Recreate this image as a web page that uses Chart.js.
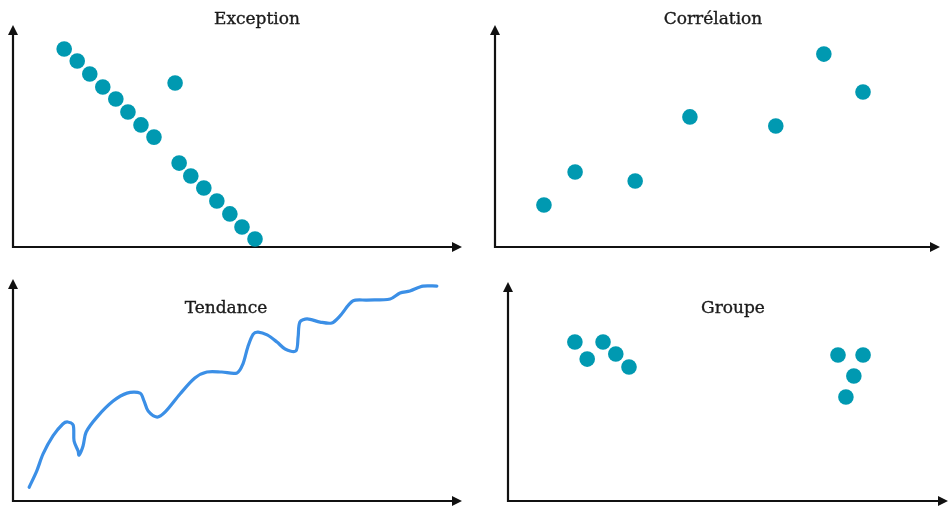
<!DOCTYPE html>
<html>
<head>
<meta charset="utf-8">
<script src="https://cdn.jsdelivr.net/npm/chart.js@4.4.1/dist/chart.umd.min.js"></script>
<style>
  html, body { margin: 0; padding: 0; background: #fff; }
  #wrap { position: relative; width: 950px; height: 507px; overflow: hidden; }
  .panel { position: absolute; }
  .title { position: absolute; font-family: "DejaVu Serif", serif; font-size: 17px; color: #1a1a1a;
           -webkit-text-stroke: 0.35px #1a1a1a;
           transform: translate(-50%, -50%); white-space: nowrap; }
</style>
</head>
<body>
<div id="wrap">
  <div class="panel" style="left:0;top:0;width:475px;height:254px"><canvas id="c1"></canvas></div>
  <div class="panel" style="left:475px;top:0;width:475px;height:254px"><canvas id="c2"></canvas></div>
  <div class="panel" style="left:0;top:254px;width:475px;height:253px"><canvas id="c3"></canvas></div>
  <div class="panel" style="left:475px;top:254px;width:475px;height:253px"><canvas id="c4"></canvas></div>
  <div class="title" style="left:257px;top:18px">Exception</div>
  <div class="title" style="left:713px;top:18px">Corrélation</div>
  <div class="title" style="left:226px;top:307px">Tendance</div>
  <div class="title" style="left:733px;top:307px">Groupe</div>
</div>
<script>
// values on a 0-10 scale along each axis
const exceptionX = [1.14, 1.43, 1.71, 2.00, 2.29, 2.56, 2.85, 3.14, 3.61, 3.70, 3.96, 4.25, 4.54, 4.83, 5.10, 5.39];
const exceptionY = [8.92, 8.38, 7.79, 7.21, 6.67, 6.08, 5.50, 4.95, 7.39, 3.78, 3.20, 2.66, 2.07, 1.49, 0.90, 0.36];

const correlX = [1.10, 1.80, 3.15, 4.38, 6.31, 7.39, 8.27];
const correlY = [1.89, 3.38, 2.97, 5.86, 5.45, 8.69, 6.98];

const trendX = [0.36, 0.53, 0.67, 0.89, 1.11, 1.22, 1.34, 1.36, 1.45, 1.47, 1.56, 1.63, 1.87, 2.23, 2.54, 2.83,
                2.92, 3.01, 3.21, 3.39, 3.72, 4.05, 4.32, 4.65, 4.99, 5.12, 5.23, 5.35, 5.46, 5.66, 5.88, 6.06,
                6.30, 6.35, 6.39, 6.55, 6.84, 7.10, 7.28, 7.57, 7.88, 8.40, 8.62, 8.84, 9.13, 9.44];
const trendY = [0.62, 1.36, 2.12, 2.93, 3.47, 3.56, 3.42, 2.70, 2.25, 2.07, 2.48, 3.11, 3.78, 4.50, 4.86, 4.86,
                4.50, 4.05, 3.78, 4.01, 4.82, 5.54, 5.81, 5.81, 5.77, 6.17, 6.94, 7.52, 7.61, 7.48, 7.16, 6.85,
                6.76, 7.39, 8.06, 8.20, 8.06, 8.02, 8.33, 9.01, 9.05, 9.10, 9.37, 9.46, 9.68, 9.68];

const groupX = [1.52, 1.80, 2.16, 2.45, 2.75, 7.50, 8.07, 7.86, 7.68];
const groupY = [7.26, 6.48, 7.26, 6.71, 6.12, 6.67, 6.67, 5.71, 4.75];

const dotColor = "#0099b1";
const lineColor = "#3b8fe6";

const zip = (xs, ys) => xs.map((x, i) => ({ x: x, y: ys[i] }));

// axes with arrow heads along the chart area
const arrowAxes = {
    id: "arrowAxes",
    beforeDatasetsDraw(chart) {
        const { ctx, chartArea: a } = chart;
        const head = 10, half = 5;
        ctx.save();
        ctx.strokeStyle = "#111";
        ctx.fillStyle = "#111";
        ctx.lineWidth = 2.2;
        ctx.beginPath();
        ctx.moveTo(a.left, a.top + head - 1);
        ctx.lineTo(a.left, a.bottom);
        ctx.lineTo(a.right - head + 1, a.bottom);
        ctx.stroke();
        ctx.beginPath();
        ctx.moveTo(a.left, a.top);
        ctx.lineTo(a.left - half, a.top + head);
        ctx.lineTo(a.left + half, a.top + head);
        ctx.closePath();
        ctx.fill();
        ctx.beginPath();
        ctx.moveTo(a.right, a.bottom);
        ctx.lineTo(a.right - head, a.bottom - half);
        ctx.lineTo(a.right - head, a.bottom + half);
        ctx.closePath();
        ctx.fill();
        ctx.restore();
    }
};

function makeChart(id, pad, dataset) {
    return new Chart(document.getElementById(id), {
        type: "scatter",
        data: { datasets: [dataset] },
        options: {
            responsive: true,
            maintainAspectRatio: false,
            animation: false,
            layout: { padding: pad, autoPadding: false },
            plugins: { legend: { display: false }, tooltip: { enabled: false } },
            scales: {
                x: { type: "linear", min: 0, max: 10, display: false },
                y: { type: "linear", min: 0, max: 10, display: false }
            }
        },
        plugins: [arrowAxes]
    });
}

function dots(xs, ys) {
    return { data: zip(xs, ys), backgroundColor: dotColor, borderWidth: 0, pointRadius: 7.8, clip: false };
}

makeChart("c1", { left: 13, top: 25, right: 13, bottom: 7 }, dots(exceptionX, exceptionY));
makeChart("c2", { left: 20, top: 25, right: 10, bottom: 7 }, dots(correlX, correlY));
makeChart("c3", { left: 13, top: 25, right: 13, bottom: 6 }, {
    data: zip(trendX, trendY), showLine: true, borderColor: lineColor, borderWidth: 3.2,
    pointRadius: 0, tension: 0.3, borderCapStyle: "round", borderJoinStyle: "round", clip: false
});
makeChart("c4", { left: 33, top: 28, right: 2, bottom: 6 }, dots(groupX, groupY));
</script>
</body>
</html>
